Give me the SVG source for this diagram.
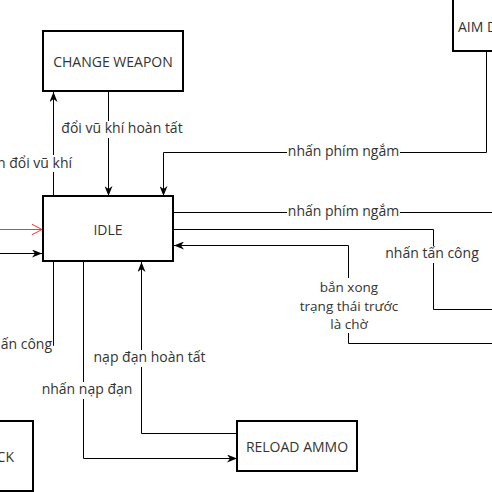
<svg xmlns="http://www.w3.org/2000/svg" width="492" height="492" viewBox="0 0 492 492">
<style>
.box{fill:#fff;stroke:#000;stroke-width:2}
.bt{font-family:"Open Sans","Liberation Sans",sans-serif;font-size:14px;fill:#333;text-anchor:middle}
.e{fill:none;stroke:#000;stroke-width:1}
.lb{font-family:"Open Sans","Liberation Sans",sans-serif;font-size:14px;fill:#333;text-anchor:middle}
.ml{font-size:13.5px}
.bg{fill:#fff}
</style>
<defs>
<marker id="arr" viewBox="0 0 10 8" refX="10" refY="4" markerWidth="10" markerHeight="8" orient="auto" markerUnits="userSpaceOnUse">
<path d="M0,0 L10,4 L0,8 L3,4 z" fill="#000"/>
</marker>
<marker id="open" viewBox="0 0 12 12" refX="11" refY="6" markerWidth="12" markerHeight="12" orient="auto" markerUnits="userSpaceOnUse">
<path d="M1,0.8 L11,6 L1,11.2" fill="none" stroke="#ff3333" stroke-width="1"/>
</marker>
</defs>

<g id="connectors">
<path class="e" d="M53.5,196 V92" marker-end="url(#arr)"/>
<path class="e" d="M108.5,91 V196" marker-end="url(#arr)"/>
<path class="e" d="M486.5,51 V152.5 H163.5 V196" marker-end="url(#arr)"/>
<path class="e" d="M173,212.5 H492"/>
<path class="e" d="M173,229.5 H433.5 V309.5 H492"/>
<path class="e" d="M492,343.5 H348.5 V245.5 H174" marker-end="url(#arr)"/>
<path class="e" d="M53.5,261 V345.5 H0"/>
<path class="e" d="M83.5,261 V458.5 H237" marker-end="url(#arr)"/>
<path class="e" d="M237,433.5 H141.5 V262" marker-end="url(#arr)"/>
<path d="M0,229.5 H42" fill="none" stroke="#ff3333" stroke-width="1" marker-end="url(#open)"/>
<path class="e" d="M0,253.5 H42" marker-end="url(#arr)"/>
</g>

<g id="labels">
<rect class="bg" x="0" y="155" width="74" height="17"/>
<text class="lb" x="72" y="168" style="text-anchor:end">n đổi vũ khí</text>
<rect class="bg" x="62" y="121" width="120" height="17"/>
<text class="lb" x="122" y="133">đổi vũ khí hoàn tất</text>
<rect class="bg" x="287" y="144" width="113" height="17"/>
<text class="lb" x="343.5" y="156">nhấn phím ngắm</text>
<rect class="bg" x="287" y="204" width="113" height="17"/>
<text class="lb" x="343.5" y="216">nhấn phím ngắm</text>
<rect class="bg" x="384" y="246" width="96" height="17"/>
<text class="lb" x="432" y="258">nhấn tấn công</text>
<rect class="bg" x="295" y="278" width="108" height="55"/>
<text class="lb ml" x="349" y="292">bắn xong</text>
<text class="lb ml" x="349" y="310.5">trạng thái trước</text>
<text class="lb ml" x="349" y="329">là chờ</text>
<rect class="bg" x="0" y="337" width="53" height="17"/>
<text class="lb" x="52" y="349" style="text-anchor:end">ấn công</text>
<rect class="bg" x="41" y="382" width="92" height="17"/>
<text class="lb" x="87" y="394">nhấn nạp đạn</text>
<rect class="bg" x="92" y="350" width="115" height="17"/>
<text class="lb" x="149.5" y="362">nạp đạn hoàn tất</text>
</g>

<g id="change-weapon">
<rect class="box" x="43" y="31" width="140" height="60"/>
<text class="bt" x="113" y="67">CHANGE WEAPON</text>
</g>
<g id="idle">
<rect class="box" x="43" y="196" width="130" height="65"/>
<text class="bt" x="108" y="235">IDLE</text>
</g>
<g id="aim">
<rect class="box" x="453" y="-2" width="60" height="53"/>
<text class="bt" x="458" y="32" style="text-anchor:start">AIM D</text>
</g>
<g id="reload-ammo">
<rect class="box" x="237" y="421" width="120" height="50"/>
<text class="bt" x="297" y="452">RELOAD AMMO</text>
</g>
<g id="attack">
<rect class="box" x="-40" y="421" width="73" height="70"/>
<text class="bt" x="14" y="462" style="text-anchor:end">CK</text>
</g>
</svg>
